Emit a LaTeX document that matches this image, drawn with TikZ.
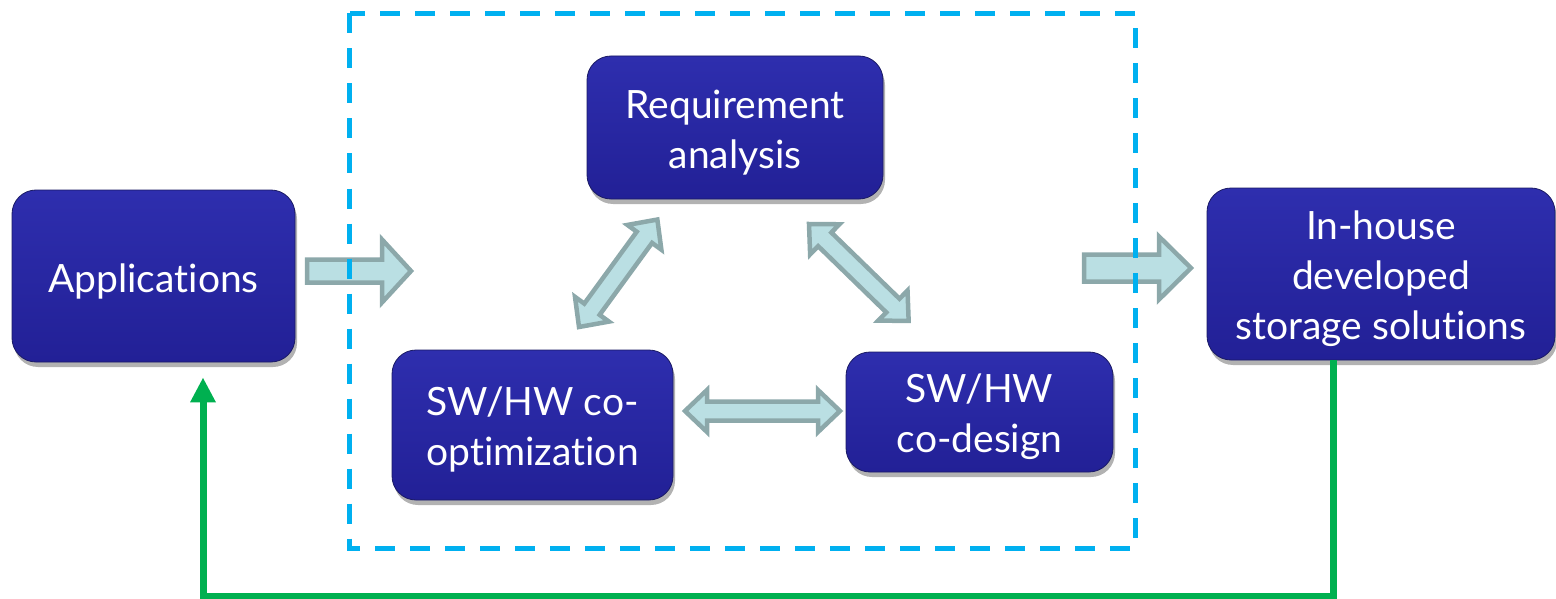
\documentclass[tikz,border=0pt]{standalone}
\usepackage{fontspec}
\setmainfont{Lato}[Ligatures=NoCommon]
\usetikzlibrary{shadows,arrows.meta,calc}
\definecolor{boxtop}{RGB}{46,46,174}
\definecolor{boxbot}{RGB}{34,32,150}
\definecolor{boxedge}{RGB}{26,26,100}
\definecolor{arrfill}{RGB}{186,223,227}
\definecolor{arredge}{RGB}{140,168,170}
\definecolor{dashcol}{RGB}{0,176,240}
\definecolor{fbgreen}{RGB}{0,176,80}
\newcommand\boxstrut[1]{\rule{0pt}{#1}}
\tikzset{
  blockbox/.style={rectangle, rounded corners=24pt, draw=boxedge, line width=0.8pt,
    top color=boxtop, bottom color=boxbot, text=white, align=center,
    font=\fontsize{39}{50}\selectfont, inner sep=0pt,
    drop shadow={shadow xshift=2pt, shadow yshift=-5pt, opacity=0.3, fill=black}},
  arrshape/.style={draw=arredge, fill=arrfill, line width=4.5pt, line join=miter},
  pics/dblarr/.style={code={
    \draw[arrshape] (0,0) -- (22,-21) -- (22,-9.5) -- ({#1-22},-9.5) -- ({#1-22},-21)
      -- (#1,0) -- ({#1-22},21) -- ({#1-22},9.5) -- (22,9.5) -- (22,21) -- cycle;
  }},
  pics/sglarr/.style args={#1/#2/#3/#4}{code={
    \draw[arrshape] (0,-#2) -- ({#1-#4},-#2) -- ({#1-#4},-#3) -- (#1,0)
      -- ({#1-#4},#3) -- ({#1-#4},#2) -- (0,#2) -- cycle;
  }},
  dashbox/.style={draw=dashcol, line width=5pt, dash pattern=on 20pt off 15pt},
  feedback/.style={draw=fbgreen, line width=7pt, -{Triangle[width=24pt,length=25pt]}},
}
\begin{document}
\begin{tikzpicture}[x=1pt,y=-1pt]
\useasboundingbox (0,0) rectangle (1556,599);

% boxes
\node[blockbox, minimum width=283pt, minimum height=172pt] (apps) at (153.5,276) {\boxstrut{40pt}Applications};
\node[blockbox, minimum width=296pt, minimum height=143pt] (req) at (735,127.5) {\boxstrut{38pt}Requirement\\analysis};
\node[blockbox, minimum width=281pt, minimum height=150pt] (coopt) at (532.5,425) {\boxstrut{38pt}SW/HW co-\\optimization};
\node[blockbox, minimum width=267pt, minimum height=120pt] (codes) at (979.5,412) {\boxstrut{38pt}SW/HW\\co-design};
\node[blockbox, minimum width=348pt, minimum height=172pt] (inh) at (1381,274) {\boxstrut{38pt}In-house\\developed\\storage solutions};

% block arrows
\pic at (307,271) {sglarr=104/11.5/31.5/29};
\pic at (1084,268) {sglarr=107/13.5/31.5/32};
\pic[rotate=53.9] at (579,327) {dblarr=133};
\pic[rotate=-44.2] at (809,224) {dblarr=139};
\pic at (685,411) {dblarr=155};

% dashed frame
\draw[dashbox] (349.5,13.5) rectangle (1135,548);

% feedback loop
\coordinate (gr) at (1333.5,0);
\coordinate (gl) at (203,0);
\coordinate (gb) at (0,596);
\draw[feedback] (inh.south -| gr) -- (gr |- gb) -| ($(apps.south -| gl)+(0,15)$);
\end{tikzpicture}
\end{document}
